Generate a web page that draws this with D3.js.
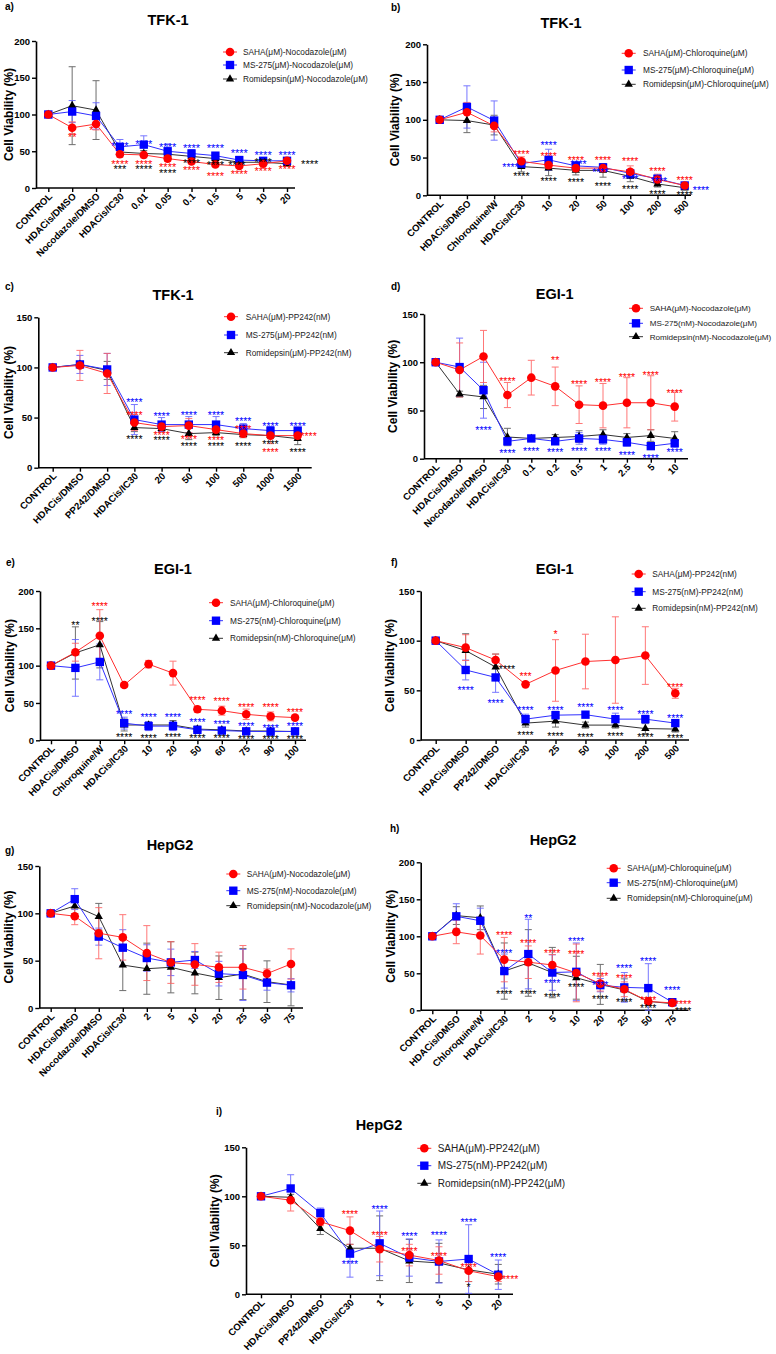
<!DOCTYPE html>
<html><head><meta charset="utf-8">
<script src="https://cdn.jsdelivr.net/npm/d3@7"></script>
<style>body{margin:0;background:#fff}svg{display:block}</style>
</head><body>
<svg id="c" width="776" height="1354"></svg>
<script>
// ---------------- DATA ----------------
const catsA = ["CONTROL","HDACis/DMSO","Nocodazole/DMSO","HDACis/IC30","0.01","0.05","0.1","0.5","5","10","20"];
const namesA = ["SAHA(\u03bcM)-Nocodazole(\u03bcM)","MS-275(\u03bcM)-Nocodazole(\u03bcM)","Romidepsin(\u03bcM)-Nocodazole(\u03bcM)"];
const sahaA = [100,82,87,46,45,40,36,32,30,33,37];
const sahaErrA = [0,8,8,4,4,4,3,3,3,3,4];
const msA = [100,104,98,56,59,50,47,44,38,37,37];
const msErrA = [0,15,18,10,12,10,5,4,5,3,4];
const romA = [100,112,106,49,47,46,43,40,35,35,33];
const romErrA = [0,53,40,5,4,4,3,3,4,3,3];
const starsA = [[3,60.5,"****","b",0],[4,62.7,"****","b",0],[5,59,"****","b",0],[6,57,"****","b",0],[7,57,"****","b",0],[8,50.5,"****","b",0],[9,47.7,"****","b",0],[10,47.7,"****","b",0],
 [1,73,"**","r",0],[2,82,"*","r",-0.2],[3,36,"****","r",0],[4,36,"****","r",0],[5,32,"****","r",0],[6,27.7,"****","r",0],[7,20,"****","r",0],[8,21.8,"****","r",0],[9,26,"****","r",0],[10,28.6,"****","r",0],
 [3,29.5,"***","k",0],[4,29.5,"****","k",0],[5,23,"****","k",0],[6,37.7,"****","k",0],[7,34,"****","k",0],[8,34.5,"****","k",-0.1],[9,38.6,"****","k",0],[10,36.4,"****","k",0.95]];

const catsB = ["CONTROL","HDACis/DMSO","Chloroquine/W","HDACis/IC30","10","20","50","100","200","500"];
const namesB = ["SAHA(\u03bcM)-Chloroquine(\u03bcM)","MS-275(\u03bcM)-Chloroquine(\u03bcM)","Romidepsin(\u03bcM)-Chloroquine(\u03bcM)"];
const sahaB = [100,110,92,45,40,36,36,31,21,13];
const sahaErrB = [0,13,8,6,5,4,4,8,7,3];
const msB = [100,117,99,42,47,39,37,29,22,13];
const msErrB = [0,28,26,5,14,6,4,5,4,3];
const romB = [100,99,93,38,36,33,33,25,15,10];
const romErrB = [0,16,13,7,10,6,9,7,4,3];
const starsB = [[3,57.8,"****","r",0],[4,54.3,"****","r",0],[5,49.9,"****","r",0],[6,49.9,"****","r",0],[7,47.7,"****","r",0],[8,34.4,"****","r",0],[9,23.4,"****","r",0],
 [3,40.2,"****","b",-0.4],[4,68.9,"****","b",0],[5,43.7,"****","b",0.1],[6,33.6,"****","b",-0.1],[7,24.7,"****","b",0],[8,21.6,"****","b",0.05],[9,10.2,"****","b",0.6],
 [3,27.8,"****","k",0],[4,21.2,"****","k",0],[5,20.3,"****","k",0],[6,15,"****","k",0],[7,10.6,"****","k",0],[8,4,"****","k",0],[9,2.6,"****","k",0]];

const catsC = ["CONTROL","HDACis/DMSO","PP242/DMSO","HDACis/IC30","20","50","100","500","1000","1500"];
const namesC = ["SAHA(\u03bcM)-PP242(nM)","MS-275(\u03bcM)-PP242(nM)","Romidepsin(\u03bcM)-PP242(nM)"];
const sahaC = [100,102,94,45,41,42,38,34,32,32];
const sahaErrC = [0,15,20,8,4,7,4,4,8,4];
const msC = [100,103,98,48,43,43,43,39,37,37];
const msErrC = [0,9,16,15,7,8,8,5,4,3];
const romC = [100,103,97,40,39,34,35,33,32,29];
const romErrC = [0,3,9,4,3,6,3,3,3,6];
const starsC = [[3,67.5,"****","b",0],[4,53.9,"****","b",0],[5,54.9,"****","b",0],[6,54.9,"****","b",0],[7,48.2,"****","b",0],[8,43.2,"****","b",0],[9,43.2,"****","b",0],
 [3,54.9,"****","r",0],[4,34.9,"****","r",0],[5,30.6,"****","r",0],[6,29.9,"****","r",0],[7,40.6,"****","r",0],[8,17.3,"****","r",0],[9,33.6,"****","r",0.4],
 [3,30.6,"****","k",0],[4,29.9,"****","k",0],[5,23.3,"****","k",0],[6,23.3,"****","k",0],[7,23.3,"****","k",0],[8,25.9,"****","k",0],[9,17.3,"****","k",0]];

const catsD = ["CONTROL","HDACis/DMSO","Nocodazole/DMSO","HDACis/IC30","0.1","0.2","0.5","1","2.5","5","10"];
const namesD = ["SAHA(\u03bcM)-Nocodazole(\u03bcM)","MS-275(nM)-Nocodazole(\u03bcM)","Romidepsin(nM)-Nocodazole(\u03bcM)"];
const sahaD = [100,92,106,66,84,75,56,55,58,58,54];
const sahaErrD = [0,28,27,13,18,20,19.5,23,26,28,15];
const msD = [100,95,71,18,21,18,21,20,17,13,16];
const msErrD = [0,30,29,4,3,3,6,5,4,3,4];
const romD = [100,67,64,22.5,21,22,23,25,22,24,21];
const romErrD = [0,3,12,9,3,3,6,5,4,6,7];
const starsD = [[3,82.3,"****","r",0],[5,104,"**","r",0],[6,79.2,"****","r",0],[7,81.6,"****","r",0],[8,86.8,"****","r",0],[9,89.2,"****","r",0],[10,70.5,"****","r",0],
 [2,32.1,"****","b",0],[3,8,"****","b",0],[4,9.7,"****","b",0],[5,8.6,"****","b",0],[6,9.7,"****","b",0],[7,9.7,"****","b",0],[8,6.2,"****","b",0],[9,3.1,"****","b",0],[10,8.6,"****","b",0]];

const catsE = ["CONTROL","HDACis/DMSO","Chloroquine/W","HDACis/IC30","10","20","50","60","75","90","100"];
const namesE = ["SAHA(\u03bcM)-Chloroquine(\u03bcM)","MS-275(nM)-Chloroquine(\u03bcM)","Romidepsin(nM)-Chloroquine(\u03bcM)"];
const sahaE = [100,118,140,74,102,90,41.5,39.7,34.8,32,30.4];
const sahaErrE = [0,12,35,3,5,16,4,6,7,6,3];
const msE = [100,97,105,23,19,19,14,13,12,11.6,12];
const msErrE = [0,38,24,8,6,6,4,3,4,4,4];
const romE = [100,117,128,20.5,20.5,20.5,15,14,12.5,12.5,11.6];
const romErrE = [0,35,31,8,4,6,4,3,3,3,3];
const starsE = [[1,157.6,"**","k",0],[2,183,"****","r",0],[2,162,"****","k",0],
 [6,56.3,"****","r",0],[7,55,"****","r",0],[8,47.3,"****","r",0],[9,47.3,"****","r",0],[10,40.6,"****","r",0],
 [3,38.4,"****","b",0],[4,34,"****","b",0],[5,34,"****","b",0],[6,27.2,"****","b",0],[7,24.1,"****","b",0],[8,21.9,"****","b",0],[9,19.6,"****","b",0],[10,21.9,"****","b",0],
 [3,7.1,"****","k",0],[4,6.3,"****","k",0],[5,7.1,"****","k",0],[6,6.3,"****","k",0],[7,6.3,"****","k",0],[8,4,"****","k",0],[9,4,"****","k",0],[10,4,"****","k",0]];

const catsF = ["CONTROL","HDACis/DMSO","PP242/DMSO","HDACis/IC30","25","50","100","200","500"];
const namesF = ["SAHA(\u03bcM)-PP242(nM)","MS-275(nM)-PP242(nM)","Romidepsin(nM)-PP242(nM)"];
const sahaF = [100,93,80.5,56,70,79,80.5,85,47];
const sahaErrF = [0,13,6,2,31,27.5,43.5,29,5];
const msF = [100,70.5,63,21,25,25.5,21,21,17];
const msErrF = [0,10,15,5,4,3,6,4,3];
const romF = [100,90,73.5,17,19,15,15,11.5,11];
const romErrF = [0,17,13,4,6,3,3,5,3];
const starsF = [[2,73.5,"****","k",0.38],[1,52,"****","b",0],[2,39.3,"****","b",0],
 [3,66,"***","r",0],[4,109,"*","r",0],[8,55.4,"****","r",0],
 [3,31.9,"****","b",0],[4,31.9,"****","b",0],[5,35.2,"****","b",0],[6,32.6,"****","b",0],[7,27.9,"****","b",0],[8,24.5,"****","b",0],
 [3,6.7,"****","k",0],[4,6,"****","k",0],[5,5,"****","k",0],[6,5.7,"****","k",0],[7,5,"****","k",0],[8,4,"****","k",0]];

const catsG = ["CONTROL","HDACis/DMSO","Nocodazole/DMSO","HDACis/IC30","2","5","10","20","25","50","75"];
const namesG = ["SAHA(\u03bcM)-Nocodazole(\u03bcM)","MS-275(nM)-Nocodazole(\u03bcM)","Romidepsin(nM)-Nocodazole(\u03bcM)"];
const sahaG = [100,97,79,74.6,58,48,46,43,43,36.3,46.5];
const sahaErrG = [0,9,27,24,29,22,22,16,23,5,16];
const msG = [100,115,75.4,63.7,52.8,48.2,50.7,36.3,34.9,26.8,24];
const msErrG = [0,11,9,19,14,14,9,13,27,8,7];
const romG = [100,107.7,96.5,45.4,41.5,43,37,32,35.9,27.8,24.3];
const romErrG = [0,8,14,27,27,27,22,23,27,22,22];
const starsG = [];

const catsH = ["CONTROL","HDACis/DMSO","Chloroquine/W","HDACis/IC30","2","5","10","20","25","50","75"];
const namesH = ["SAHA(\u03bcM)-Chloroquine(\u03bcM)","MS-275(nM)-Chloroquine(\u03bcM)","Romidepsin(nM)-Chloroquine(\u03bcM)"];
const sahaH = [100,106,101,68.5,65,61.3,50.5,36,28.4,12,10];
const sahaErrH = [0,16,25,30,22,14,39,10,10,4,3];
const msH = [100,127,121,53,76,51,52,34,31,30,11];
const msErrH = [0,17,17,23,47,24,39,9,20,33,4];
const romH = [100,128,125,53,64,51,44,35,27.5,12,9];
const romErrH = [0,12,16,38,45,34,29,27,15,5,3];
const starsH = [[3,105,"****","r",0],[4,93,"****","r",0],[5,80,"****","r",0],[6,79,"****","r",0],[7,49,"****","r",0],[8,46,"****","r",0],[9,16,"****","r",0],[10,11,"****","r",0.45],
 [3,80,"****","b",0],[4,128,"**","b",0],[5,39,"****","b",0],[6,97,"****","b",0],[7,37,"****","b",0],[8,60,"****","b",0],[9,69,"****","b",0],[10,30,"****","b",0],
 [3,25,"****","k",0],[4,25,"****","k",0],[5,21,"****","k",0],[6,34,"****","k",0],[7,18,"****","k",0],[8,14,"****","k",0],[9,6,"****","k",0],[10,2,"****","k",0.45]];

const catsI = ["CONTROL","HDACis/DMSO","PP242/DMSO","HDACis/IC30","1","2","5","10","20"];
const namesI = ["SAHA(\u03bcM)-PP242(\u03bcM)","MS-275(nM)-PP242(\u03bcM)","Romidepsin(nM)-PP242(\u03bcM)"];
const sahaI = [100,96,74,65,46,40,34.5,24,18];
const sahaErrI = [0,11,4,14,13,11,14,11,5];
const msI = [100,108,83,41.5,52,37.5,33.5,36,20];
const msErrI = [0,14,5,24,33,19,22,35,15];
const romI = [100,99,67,47,47,34,32,25,20.5];
const romErrI = [0,3,6,4,33,22,20,12,10];
const starsI = [[3,83.7,"****","r",0],[4,62.2,"****","r",0],[5,46.3,"****","r",0],[6,41.2,"****","r",0],[7,29.9,"****","r",0],[8,18,"****","r",0.4],
 [3,32.7,"****","b",0],[4,89.1,"****","b",0],[5,61.6,"****","b",0],[6,62.9,"****","b",0],[7,75.5,"****","b",0],[8,40.1,"****","b",0],
 [7,9.5,"*","k",0]];

// ---------------- LAYOUT ----------------
const FONT = "'Liberation Sans', Arial, sans-serif";
const COL = {r:{mark:"#ff0000",line:"#ff3030",err:"#ff6060"}, b:{mark:"#0000ff",line:"#3030ff",err:"#6060ff"}, k:{mark:"#000000",line:"#333333",err:"#555555"}};
const panels = [
 {id:"a",title:"TFK-1",yMax:200,cats:catsA,names:namesA,saha:sahaA,sahaErr:sahaErrA,ms:msA,msErr:msErrA,rom:romA,romErr:romErrA,stars:starsA,sfs:11,lfs:8.3,
  L:{x0:36,xFirst:48.3,xLast:287,xEnd:295,yTop:41,yBottom:188,lab:[5,10],title:[168,20],mx:230,tx:243,rows:[52,65,79],yt:13.3}},
 {id:"b",title:"TFK-1",yMax:200,cats:catsB,names:namesB,saha:sahaB,sahaErr:sahaErrB,ms:msB,msErr:msErrB,rom:romB,romErr:romErrB,stars:starsB,sfs:10.5,lfs:8.3,
  L:{x0:427,xFirst:439.7,xLast:684.7,xEnd:691,yTop:44.3,yBottom:195.3,lab:[391,11],title:[561,22.7],mx:628.7,tx:643,rows:[53.3,70,84.3],yt:399}},
 {id:"c",title:"TFK-1",yMax:150,cats:catsC,names:namesC,saha:sahaC,sahaErr:sahaErrC,ms:msC,msErr:msErrC,rom:romC,romErr:romErrC,stars:starsC,sfs:10.5,lfs:8.3,
  L:{x0:38.3,xFirst:52.7,xLast:297.7,xEnd:311.7,yTop:317.3,yBottom:467.7,lab:[5,290],title:[173,295],mx:231,tx:245.7,rows:[316.7,335,352.7],yt:12.6}},
 {id:"d",title:"EGI-1",yMax:150,cats:catsD,names:namesD,saha:sahaD,sahaErr:sahaErrD,ms:msD,msErr:msErrD,rom:romD,romErr:romErrD,stars:starsD,sfs:10.5,lfs:8.1,
  L:{x0:424,xFirst:435.7,xLast:674.7,xEnd:688,yTop:314,yBottom:458.7,lab:[391,290],title:[554.7,293.3],mx:636,tx:649.7,rows:[308.3,323.3,336.7],yt:397}},
 {id:"e",title:"EGI-1",yMax:200,cats:catsE,names:namesE,saha:sahaE,sahaErr:sahaErrE,ms:msE,msErr:msErrE,rom:romE,romErr:romErrE,stars:starsE,sfs:10.5,lfs:8.3,
  L:{x0:40,xFirst:51,xLast:295,xEnd:306,yTop:591,yBottom:740.3,lab:[6,566],title:[173,568.3],mx:216,tx:230,rows:[602.7,620.7,638.3],yt:14}},
 {id:"f",title:"EGI-1",yMax:150,cats:catsF,names:namesF,saha:sahaF,sahaErr:sahaErrF,ms:msF,msErr:msErrF,rom:romF,romErr:romErrF,stars:starsF,sfs:10.5,lfs:8.3,
  L:{x0:420.7,xFirst:435.7,xLast:675.3,xEnd:689,yTop:591,yBottom:740,lab:[391,566],title:[554.7,568.3],mx:638.7,tx:652.3,rows:[574,591.7,608.3],yt:394}},
 {id:"g",title:"HepG2",yMax:150,cats:catsG,names:namesG,saha:sahaG,sahaErr:sahaErrG,ms:msG,msErr:msErrG,rom:romG,romErr:romErrG,stars:starsG,sfs:10.5,lfs:8.3,
  L:{x0:39.3,xFirst:50.7,xLast:291,xEnd:303,yTop:866,yBottom:1008,lab:[5,854],title:[170,845],mx:233.3,tx:246.7,rows:[874,890.7,905.7],yt:12.6}},
 {id:"h",title:"HepG2",yMax:200,cats:catsH,names:namesH,saha:sahaH,sahaErr:sahaErrH,ms:msH,msErr:msErrH,rom:romH,romErr:romErrH,stars:starsH,sfs:10.5,lfs:8.3,
  L:{x0:420.7,xFirst:432.3,xLast:672.3,xEnd:688,yTop:862.3,yBottom:1010.3,lab:[390,832],title:[553,840],mx:613.7,tx:627,rows:[868.3,882.7,898.3],yt:395}},
 {id:"i",title:"HepG2",yMax:150,cats:catsI,names:namesI,saha:sahaI,sahaErr:sahaErrI,ms:msI,msErr:msErrI,rom:romI,romErr:romErrI,stars:starsI,sfs:10.5,lfs:10,
  L:{x0:246,xFirst:261,xLast:498.3,xEnd:513,yTop:1147.3,yBottom:1294.3,lab:[216,1115],title:[379,1125],mx:424.3,tx:437.7,rows:[1148.3,1165.7,1183.3],yt:219}}
];

const svg = d3.select("#c").attr("font-family", FONT);
svg.append("rect").attr("width",776).attr("height",1354).attr("fill","#fff");

function marker(sel, sym, cx, cy, c) {
  const size = sym === d3.symbolCircle ? 58 : (sym === d3.symbolSquare ? 70 : 30);
  sel.append("path").attr("d", d3.symbol().type(sym).size(size)())
    .attr("transform", `translate(${cx},${cy})`).attr("fill", COL[c].mark);
}

function drawPanel(p) {
  const L = p.L;
  const g = svg.append("g");
  const idx = d3.range(p.cats.length);
  const x = d3.scalePoint().domain(idx).range([L.xFirst, L.xLast]);
  const y = d3.scaleLinear().domain([0, p.yMax]).range([L.yBottom, L.yTop]);
  const step = x.step();

  g.append("text").attr("x", L.lab[0]).attr("y", L.lab[1]).attr("font-size", 10).attr("font-weight", "bold").text(p.id + ")");
  g.append("text").attr("x", L.title[0]).attr("y", L.title[1]).attr("dy", "0.36em").attr("text-anchor", "middle")
    .attr("font-size", 14.5).attr("font-weight", "bold").text(p.title);
  g.append("text").attr("transform", `translate(${L.yt},${(L.yTop + L.yBottom) / 2}) rotate(-90)`)
    .attr("text-anchor", "middle").attr("font-size", 12).attr("font-weight", "bold").text("Cell Viability (%)");

  // y axis
  const ya = g.append("g").attr("transform", `translate(${L.x0},0)`)
    .call(d3.axisLeft(y).tickValues(d3.range(0, p.yMax + 1, 50)).tickSize(4).tickSizeOuter(0).tickPadding(2));
  ya.attr("font-family", FONT);
  ya.select(".domain").attr("stroke-width", 1.6);
  ya.selectAll(".tick line").attr("stroke-width", 1.4);
  ya.selectAll(".tick text").attr("font-size", 9.5).attr("font-weight", "bold");

  // x axis
  const xa = g.append("g").attr("transform", `translate(0,${L.yBottom})`)
    .call(d3.axisBottom(x).tickSize(4).tickSizeOuter(0).tickFormat(i => p.cats[i]));
  xa.attr("font-family", FONT);
  xa.select(".domain").remove();
  xa.selectAll(".tick line").attr("stroke-width", 1.4);
  xa.selectAll(".tick text").attr("x", 0).attr("y", 0).attr("dy", 0)
    .attr("transform", "translate(4,9) rotate(-45)").style("text-anchor", "end")
    .attr("font-size", 9.6).attr("font-weight", "bold");
  g.append("line").attr("x1", L.x0).attr("x2", L.xEnd).attr("y1", L.yBottom).attr("y2", L.yBottom)
    .attr("stroke", "#000").attr("stroke-width", 1.6);

  const series = [
    {v: p.rom, e: p.romErr, c: "k", sym: d3.symbolTriangle},
    {v: p.ms, e: p.msErr, c: "b", sym: d3.symbolSquare},
    {v: p.saha, e: p.sahaErr, c: "r", sym: d3.symbolCircle}
  ];
  // error bars
  series.forEach(s => {
    const eg = g.append("g").attr("stroke", COL[s.c].err).attr("stroke-width", 1).attr("opacity", 0.85);
    s.v.forEach((v, i) => {
      const e = s.e[i];
      if (!e) return;
      const cx = x(i), y1 = y(v + e), y2 = y(Math.max(v - e, 0));
      eg.append("line").attr("x1", cx).attr("x2", cx).attr("y1", y1).attr("y2", y2);
      eg.append("line").attr("x1", cx - 3.5).attr("x2", cx + 3.5).attr("y1", y1).attr("y2", y1);
      eg.append("line").attr("x1", cx - 3.5).attr("x2", cx + 3.5).attr("y1", y2).attr("y2", y2);
    });
  });
  // lines
  series.forEach(s => {
    g.append("path").datum(s.v).attr("fill", "none").attr("stroke", COL[s.c].line).attr("stroke-width", 1)
      .attr("d", d3.line().x((d, i) => x(i)).y(d => y(d)));
  });
  // markers
  series.forEach(s => {
    s.v.forEach((v, i) => marker(g, s.sym, x(i), y(v), s.c));
  });
  // stars
  p.stars.forEach(s => {
    g.append("text").attr("x", x(s[0]) + s[4] * step).attr("y", y(s[1]) + 0.57 * p.sfs)
      .attr("text-anchor", "middle").attr("font-size", p.sfs).attr("fill", COL[s[3]].mark).text(s[2]);
  });
  // legend
  const legSeries = [series[2], series[1], series[0]];
  p.names.forEach((nm, i) => {
    const s = legSeries[i], ry = L.rows[i];
    g.append("line").attr("x1", L.mx - 7).attr("x2", L.mx + 7).attr("y1", ry).attr("y2", ry)
      .attr("stroke", COL[s.c].line).attr("stroke-width", 1);
    marker(g, s.sym, L.mx, ry, s.c);
    g.append("text").attr("x", L.tx).attr("y", ry).attr("dy", "0.35em").attr("font-size", p.lfs)
      .attr("fill", "#222").text(nm);
  });
}

panels.forEach(drawPanel);
</script>
</body></html>
